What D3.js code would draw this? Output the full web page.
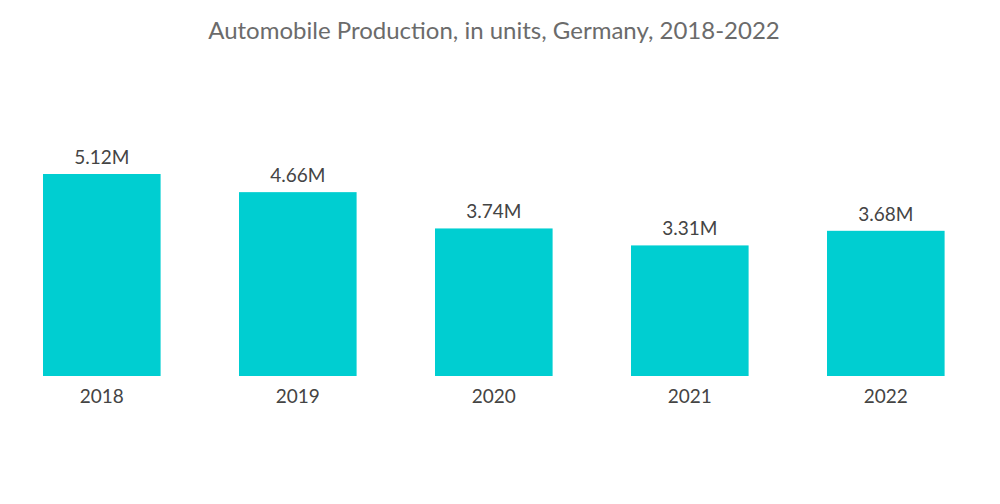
<!DOCTYPE html>
<html>
<head>
<meta charset="UTF-8" />
<title>Automobile Production</title>
<script src="https://d3js.org/d3.v7.min.js"></script>
<style>
  body { margin: 0; background: #fff; }
  text { font-family: Lato, "Open Sans", sans-serif; }
</style>
</head>
<body>
<div id="main"></div>
<script type="text/javascript">
  var years = ['2018', '2019', '2020', '2021', '2022'];
  var values = [5.12, 4.66, 3.74, 3.31, 3.68];
  var labels = ['5.12M', '4.66M', '3.74M', '3.31M', '3.68M'];

  var width = 1000;
  var height = 504;

  var svg = d3.select('#main')
              .append('svg')
              .attr('width', width)
              .attr('height', height);

  var x = d3.scaleBand()
            .domain(years)
            .range([3.8, 983.8])
            .paddingInner(0.4)
            .paddingOuter(0.2);

  var y = d3.scaleLinear()
            .domain([0, 5.12])
            .range([376, 174]);

  svg.append('text')
     .attr('x', 494)
     .attr('y', 39)
     .attr('text-anchor', 'middle')
     .attr('fill', '#6b6b6b')
     .style('font-size', '24px')
     .text('Automobile Production, in units, Germany, 2018-2022');

  svg.append('g')
     .selectAll('rect')
     .data(values)
     .enter()
     .append('rect')
     .attr('x', function(d, i){ return x(years[i]); })
     .attr('width', x.bandwidth())
     .attr('y', function(d){ return y(d); })
     .attr('height', function(d){ return y(0) - y(d); })
     .attr('fill', '#00ced1');

  svg.append('g')
     .selectAll('text')
     .data(values)
     .enter()
     .append('text')
     .attr('x', function(d, i){ return x(years[i]) + x.bandwidth() / 2; })
     .attr('y', function(d){ return y(d) - 10; })
     .attr('text-anchor', 'middle')
     .attr('fill', '#444')
     .style('font-size', '19px')
     .text(function(d, i){ return labels[i]; });

  var axis = d3.axisBottom(x).tickSize(0).tickPadding(14);
  var g = svg.append('g')
             .attr('transform', 'translate(0,376)')
             .call(axis);
  g.select('.domain').remove();
  g.selectAll('text')
   .attr('fill', '#444')
   .style('font-size', '19px')
   .style('font-family', 'Lato, "Open Sans", sans-serif');
</script>
</body>
</html>
